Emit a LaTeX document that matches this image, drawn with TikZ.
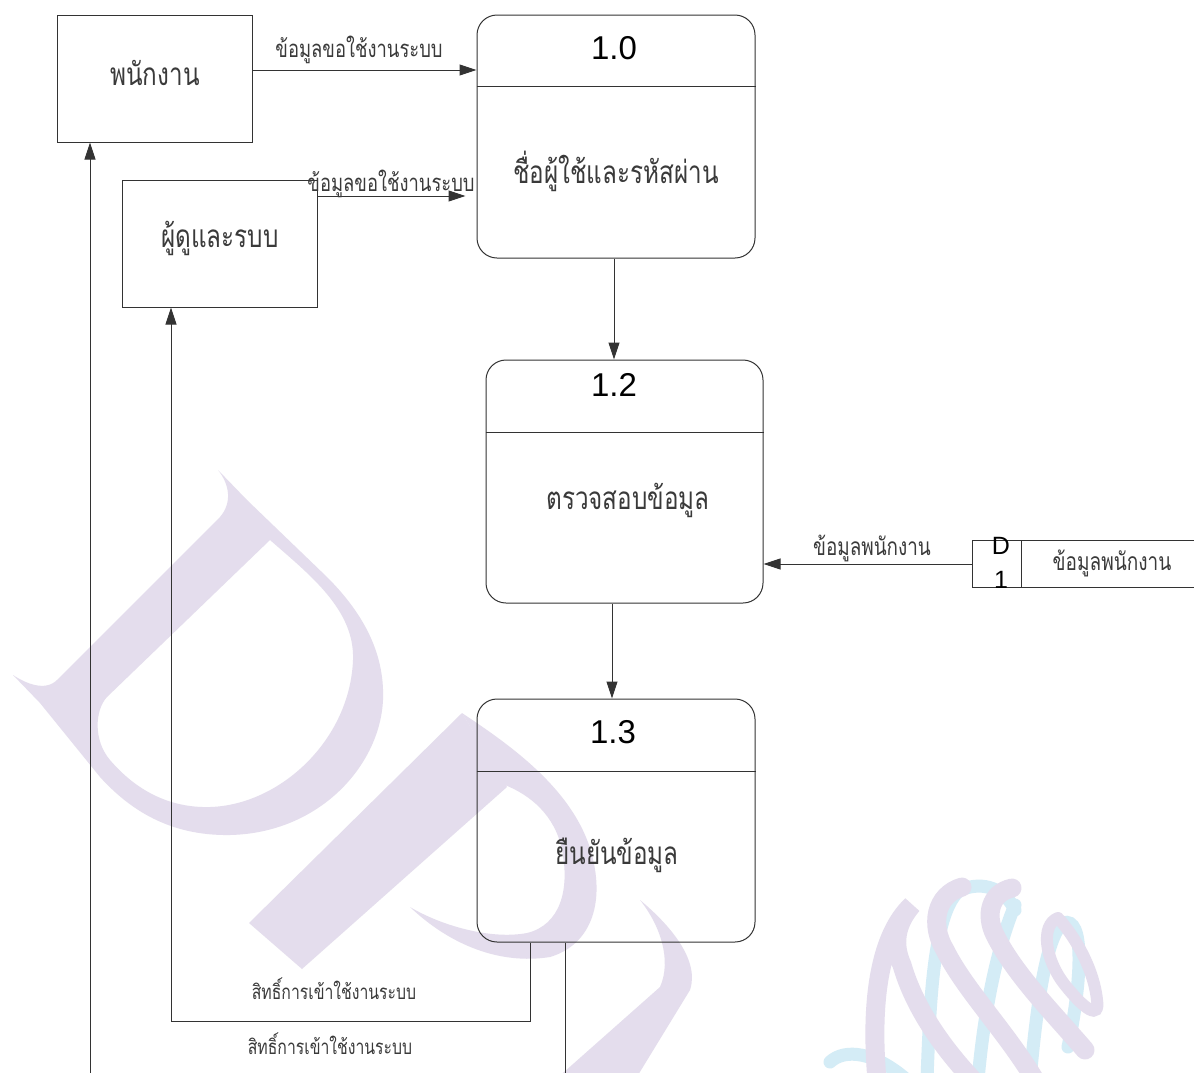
\documentclass[tikz,border=0pt]{standalone}
\usepackage{fontspec}
\setmainfont{Liberation Sans}
\newfontfamily\thaifont[Script=Thai, FakeStretch=0.77]{Loma}
\usetikzlibrary{arrows.meta,calc}
\definecolor{ink}{HTML}{333333}
\definecolor{textink}{HTML}{3A3A3A}
\definecolor{wmpurple}{HTML}{E4DDED}
\definecolor{wmblue}{HTML}{D4ECF6}
\begin{document}
\begin{tikzpicture}[x=1pt,y=-1pt,
  line/.style={draw=ink, line width=1pt},
  flow/.style={line, -{Triangle[length=17pt,width=11pt]}},
  entity/.style={line, minimum width=195pt, minimum height=127pt, inner sep=0pt},
  process/.style={line, rounded corners=20pt, minimum width=278pt, minimum height=243pt, inner sep=0pt},
  pid/.style={font=\fontsize{33}{33}\selectfont, text=black},
  ptext/.style={font=\thaifont\fontsize{31.5}{34}\selectfont, text=textink},
  flowlabel/.style={font=\thaifont\fontsize{#1}{#1}\selectfont, text=textink},
  ribbonP/.style={draw=wmpurple, line width=19pt, line cap=round},
  ribbonB/.style={draw=wmblue, line width=13pt, line cap=round},
]
\useasboundingbox (0,0) rectangle (1194,1072);
\fill[white] (0,0) rectangle (1194,1072);
\begin{scope}
\clip (0,0) rectangle (1194,1072);

% ---- background emblem: letter D ----
\fill[wmpurple, even odd rule]
  (218,470) -- (247,500) -- (327,577)
  .. controls (360,610) and (385,650) .. (383,700)
  .. controls (380,765) and (320,833) .. (230,835)
  .. controls (170,836) and (130,810) .. (100,777)
  -- (40,703) -- (13,675)
  .. controls (25,683) and (45,692) .. (57,680)
  -- (220,517)
  .. controls (232,503) and (230,485) .. (218,470) -- cycle
  (270,540) -- (107,697)
  .. controls (95,710) and (93,740) .. (110,760)
  .. controls (140,795) and (175,808) .. (210,807)
  .. controls (280,805) and (350,740) .. (353,660)
  .. controls (355,610) and (310,575) .. (270,540) -- cycle;

% ---- letter P ----
\fill[wmpurple]
  (462,713) -- (249,923) -- (302,969) -- (507,787) -- cycle;
\fill[wmpurple]
  (462,713)
  .. controls (510,745) and (575,790) .. (592,855)
  .. controls (605,905) and (590,945) .. (550,957)
  .. controls (500,965) and (450,945) .. (410,907)
  .. controls (440,925) and (490,940) .. (527,933)
  .. controls (560,925) and (570,890) .. (562,850)
  .. controls (555,815) and (530,795) .. (505,785) -- cycle;

% ---- letter U ----
\fill[wmpurple]
  (640,900) .. controls (670,925) and (700,960) .. (690,990)
  -- (635,1080) -- (555,1080) -- (660,987)
  .. controls (672,960) and (660,925) .. (640,900) -- cycle;

% ---- ribbon emblem ----
\draw[ribbonB] (830,1062) .. controls (845,1048) and (875,1052) .. (907,1080);
\draw[ribbonB] (927,1080) .. controls (930,990) and (935,910) .. (960,890)
  .. controls (985,880) and (1005,890) .. (1015,910);
\draw[ribbonB] (978,1080) .. controls (985,1000) and (1000,940) .. (1015,905);
\draw[ribbonB] (1030,1080) .. controls (1038,990) and (1048,935) .. (1063,923)
  .. controls (1085,915) and (1082,980) .. (1068,1047);
\draw[ribbonP] (877,1080) .. controls (870,1000) and (880,935) .. (912,905)
  .. controls (895,925) and (893,945) .. (902,965)
  .. controls (915,1010) and (945,1050) .. (973,1080);
\draw[ribbonP] (962,887) .. controls (935,895) and (930,925) .. (945,950)
  .. controls (965,990) and (1005,1030) .. (1035,1080);
\draw[ribbonP] (1012,888) .. controls (990,893) and (985,915) .. (995,935)
  .. controls (1015,975) and (1055,1015) .. (1085,1050);
\draw[draw=wmpurple, line width=12pt, line cap=round]
  (1058,918) .. controls (1040,925) and (1045,960) .. (1065,985)
  .. controls (1085,1010) and (1100,1020) .. (1097,1000)
  .. controls (1095,980) and (1085,950) .. (1060,920);

% ---- external entities ----
\node[entity] (emp) at (154.5,78.5) {};
\node[ptext] at (155,73) {พนักงาน};
\node[entity] (admin) at (220,243.5) {};
\node[ptext] at (220,238) {ผู้ดูและรบบ};

% ---- processes ----
\node[process] (p10) at (616,136.5) {};
\draw[line] ($(p10.north west)+(0,72)$) -- ($(p10.north east)+(0,72)$);
\node[pid] at (614,48) {1.0};
\node[ptext] at (616,171) {ชื่อผู้ใช้และรหัสผ่าน};

\node[process, minimum width=277pt] (p12) at (624.5,481.5) {};
\draw[line] ($(p12.north west)+(0,73)$) -- ($(p12.north east)+(0,73)$);
\node[pid] at (614,385) {1.2};
\node[ptext] at (628,500) {ตรวจสอบข้อมูล};

\node[process] (p13) at (616,820.5) {};
\draw[line] ($(p13.north west)+(0,73)$) -- ($(p13.north east)+(0,73)$);
\node[pid] at (613,732) {1.3};
\node[ptext] at (617,855) {ยืนยันข้อมูล};

% ---- data store D1 ----
\node[minimum width=221pt, minimum height=46pt, inner sep=0pt] (ds) at (1083.5,564) {};
\draw[line] (ds.north east) -- (ds.north west) -- (ds.south west) -- (ds.south east);
\draw[line] ($(ds.north west)+(49,0)$) -- ($(ds.south west)+(49,0)$);
\node[font=\fontsize{25}{34}\selectfont, align=center, text=black] at (1001,563) {D\\1};
\node[flowlabel=24.7] at (1112,563) {ข้อมูลพนักงาน};

% ---- data flows ----
\draw[flow] ([yshift=8.5pt]emp.east) -- ([yshift=8.5pt]emp.east -| p10.west);
\node[flowlabel=23.9] at (359,50) {ข้อมูลขอใช้งานระบบ};

\draw[flow] ([yshift=47.5pt]admin.east) -- ([yshift=47.5pt,xshift=-11pt]admin.east -| p10.west);
\node[flowlabel=23.9] at (391,184) {ข้อมูลขอใช้งานระบบ};

\draw[flow] ([xshift=-2pt]p10.south) -- ([xshift=-2pt]p10.south |- p12.north);
\draw[flow] ([xshift=-12.5pt]p12.south) -- ([xshift=-12.5pt]p12.south |- p13.north);

\draw[flow] (ds.west) -- (ds.west -| p12.east);
\node[flowlabel=24.5] at (872,548) {ข้อมูลพนักงาน};

\draw[flow] ([xshift=-86pt]p13.south) -- ++(0,79) -| ([xshift=-49pt]admin.south);
\node[flowlabel=20.5] at (334,989) {สิทธิ์การเข้าใช้งานระบบ};

\draw[flow] ([xshift=-51pt]p13.south) -- ++(0,160) -| ([xshift=-64.5pt]emp.south);
\node[flowlabel=20.5] at (330,1044) {สิทธิ์การเข้าใช้งานระบบ};
\end{scope}
\end{tikzpicture}
\end{document}
